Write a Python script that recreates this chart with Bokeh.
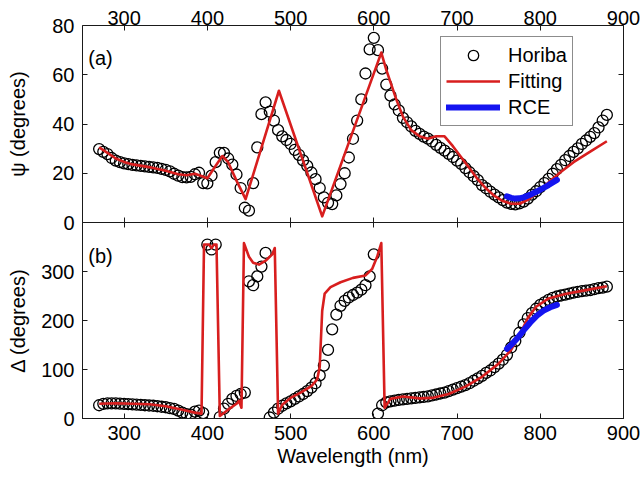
import math

from bokeh.plotting import figure
from bokeh.layouts import column
from bokeh.models import (Range1d, LinearAxis, FixedTicker, Label,
                          Legend, LegendItem)
from bokeh.embed import file_html
from bokeh.resources import INLINE

# ---------------------------------------------------------------- data
wavelength = [
    270, 275, 280, 285, 290, 295, 300, 305, 310, 315, 320, 325, 330, 335, 340,
    345, 350, 355, 360, 365, 370, 375, 380, 385, 390, 395, 400, 405, 410, 415,
    420, 425, 430, 435, 440, 445, 450, 455, 460, 465, 470, 475, 480, 485, 490,
    495, 500, 505, 510, 515, 520, 525, 530, 535, 540, 545, 550, 555, 560, 565,
    570, 575, 580, 585, 590, 595, 600, 605, 610, 615, 620, 625, 630, 635, 640,
    645, 650, 655, 660, 665, 670, 675, 680, 685, 690, 695, 700, 705, 710, 715,
    720, 725, 730, 735, 740, 745, 750, 755, 760, 765, 770, 775, 780, 785, 790,
    795, 800, 805, 810, 815, 820, 825, 830, 835, 840, 845, 850, 855, 860, 865,
    870, 875, 880,
]

psi_horiba = [
    29.8, 28.7, 27.8, 26.2, 25.1, 24.5, 24.0, 23.7, 23.4, 23.2, 23.0, 22.8, 22.6, 22.4, 22.2,
    21.8, 21.4, 20.8, 19.8, 19.0, 18.4, 18.3, 18.5, 19.6, 20.2, 16.0, 15.9, 19.0, 24.5, 28.3,
    28.3, 26.0, 23.5, 19.5, 14.0, 6.0, 4.8, 16.0, 30.5, 44.0, 48.8, 45.0, 41.4, 37.5, 35.0,
    33.5, 31.9, 29.5, 27.5, 25.2, 23.0, 20.3, 17.6, 14.0, 10.2, 8.0, 7.5, 11.0, 15.6, 20.0,
    26.4, 34.0, 41.4, 50.0, 60.5, 70.3, 75.0, 70.0, 62.5, 56.0, 51.5, 48.0, 45.5, 42.5, 40.7,
    39.0, 37.2, 36.0, 34.9, 34.1, 32.9, 31.5, 30.3, 29.2, 27.9, 26.6, 25.1, 23.8, 22.1, 20.4,
    18.8, 17.2, 15.2, 13.9, 12.5, 11.3, 10.2, 9.1, 8.1, 7.6, 7.4, 7.8, 8.5, 9.7, 11.3,
    12.7, 14.4, 16.0, 17.7, 19.8, 21.7, 23.4, 25.3, 27.0, 28.7, 30.1, 31.9, 33.3, 34.8, 36.3,
    38.6, 41.4, 43.7,
]

delta_horiba = [
    27, 30, 31, 31, 31, 30.5, 30, 29.5, 29, 28.5, 28, 27, 26.5, 26, 25,
    24, 23, 21, 19.5, 16, 12, 9, 8, 14, 16, 11, 355, 345, 355, 3,
    20, 30, 40, 46, 50, 53, 280, 272, 290, 310, 338, 2, 12, 20, 26,
    31, 35, 40, 45, 50, 56, 63, 72, 88, 108, 140, 182, 212, 230, 240,
    247, 252, 257, 263, 272, 290, 335, 10, 27, 33, 35, 36.5, 38, 39, 40,
    41, 42, 43, 44, 45, 47, 49, 51, 53, 56, 59, 62, 65, 68, 72,
    77, 82, 87, 93, 98, 105, 112, 120, 130, 145, 158, 175, 192, 205, 215,
    224, 232, 237, 242, 246, 249, 251, 253, 255, 257, 258.5, 260, 261, 262, 264,
    266, 267, 269,
]

fit_psi_wl = [270, 280, 290, 300, 310, 330, 350, 365, 375, 385, 392, 400, 408,
              418, 425, 435, 446, 486, 538, 609, 615, 620, 627, 635, 645, 655,
              665, 675, 685, 695, 705, 715, 725, 735, 745, 755, 765, 775, 785,
              795, 805, 815, 825, 840, 860, 880]
fit_psi = [30.5, 28.3, 26.0, 24.6, 23.6, 22.5, 21.0, 19.6, 19.2, 19.8, 19.0,
           18.0, 22.0, 27.0, 24.5, 17.0, 9.5, 53.5, 2.5, 69.0, 62.0, 57.0, 50.0,
           43.0, 37.5, 35.0, 34.0, 35.0, 35.0, 31.0, 26.5, 22.0, 17.5, 13.8,
           10.8, 8.7, 7.6, 7.6, 9.2, 11.8, 14.8, 17.8, 20.6, 24.5, 28.8, 33.0]

fit_delta_wl = [270, 290, 310, 330, 350, 370, 385, 393, 396, 402, 405, 408, 411,
                415, 425, 435, 438, 441, 444, 450, 455, 462, 470, 478, 481, 485,
                490, 500, 512, 525, 532, 535, 538, 541, 548, 560, 575, 590, 598,
                604, 609, 613, 620, 635, 655, 670, 690, 710, 730, 750, 765, 775,
                785, 795, 810, 830, 855, 880]
fit_delta = [30, 31, 30, 29, 25, 18, 12, 10, 355, 355, 348, 355, 355,
             5, 18, 30, 36, 22, 358, 330, 318, 314, 322, 335, 348, 10,
             28, 42, 53, 66, 80, 105, 220, 255, 268, 278, 287, 292, 305,
             330, 358, 22, 40, 45, 41, 42, 50, 65, 85, 112, 140, 170,
             205, 228, 245, 254, 262, 270]

rce_psi_wl = [760, 765, 770, 775, 780, 790, 800, 810, 820]
rce_psi = [10.6, 10.0, 9.7, 9.8, 10.2, 11.6, 13.3, 15.2, 17.3]

rce_delta_wl = [760, 766, 772, 780, 788, 796, 804, 812, 820]
rce_delta = [142, 152, 163, 180, 196, 210, 220, 227, 232]

x_ticks = [300, 400, 500, 600, 700, 800, 900]
psi_ticks = [0, 20, 40, 60, 80]
delta_ticks = [0, 100, 200, 300]

# ---------------------------------------------------------------- styles
FONT = "Liberation Sans"
FS = "20px"
INK = "#1a1a1a"
RED = "#d81e1e"
BLUE = "#1414f0"
MARKER_SIZE = 11
MARKER_LW = 1.3
SEAM = 24          # spare border on each side of the shared panel edge

x_range = Range1d(250, 900)


def add_axis(fig, place, ticks, labelled=True, title=None, line=True):
    ax = LinearAxis(ticker=FixedTicker(ticks=ticks))
    if not labelled:
        ax.major_label_overrides = {t: "" for t in ticks}
    ax.major_tick_in = 5
    ax.major_tick_out = 0
    ax.minor_tick_line_color = None
    ax.major_tick_line_color = INK
    ax.axis_line_color = INK if line else None
    ax.major_label_text_font = FONT
    ax.major_label_text_font_size = FS
    ax.major_label_text_color = "black"
    ax.major_label_standoff = 8 if labelled else 0
    if title:
        ax.axis_label = title
        ax.axis_label_text_font = FONT
        ax.axis_label_text_font_size = FS
        ax.axis_label_text_font_style = "normal"
        ax.axis_label_text_color = "black"
    fig.add_layout(ax, place)
    return ax


def make_fig(height, y_max, top, bottom, **kw):
    fig = figure(width=641, height=height, x_range=x_range,
                 y_range=Range1d(0, y_max),
                 x_axis_location=None, y_axis_location=None,
                 output_backend="svg", toolbar_location=None,
                 min_border_left=82, min_border_right=18,
                 min_border_top=top, min_border_bottom=bottom,
                 background_fill_color="white", **kw)
    fig.grid.visible = False
    return fig


# ---------------------------------------------------------------- (a) psi
p1 = make_fig(25 + 197 + SEAM, 80, 25, SEAM,
              border_fill_color="white", outline_line_color=None)
ax = add_axis(p1, "left", psi_ticks, title="ψ (degrees)")
ax.axis_label_standoff = 20
add_axis(p1, "right", psi_ticks, labelled=False)
ax = add_axis(p1, "above", x_ticks)
ax.major_label_standoff = 1
add_axis(p1, "below", x_ticks, labelled=False, line=False)

psi_pts = p1.scatter(wavelength, psi_horiba, marker="circle",
                     size=MARKER_SIZE, fill_color=None, line_color="black",
                     line_width=MARKER_LW)
psi_fit = p1.line(fit_psi_wl, fit_psi, line_color=RED, line_width=2.6,
                  line_join="round")
psi_rce = p1.line(rce_psi_wl, rce_psi, line_color=BLUE, line_width=6,
                  line_cap="round", line_join="round")

p1.add_layout(Label(x=257, y=67, text="(a)", text_font=FONT,
                    text_font_size=FS, text_color="black",
                    text_baseline="middle"))

legend = Legend(items=[LegendItem(label="Horiba", renderers=[psi_pts]),
                       LegendItem(label="Fitting", renderers=[psi_fit]),
                       LegendItem(label="RCE", renderers=[psi_rce])],
                location=(358, 96), orientation="vertical",
                label_text_font=FONT, label_text_font_size=FS,
                label_text_color="black",
                glyph_width=54, glyph_height=26, label_height=26,
                label_standoff=8, spacing=0, padding=5, margin=0,
                border_line_color=INK, border_line_width=1,
                background_fill_color="white", background_fill_alpha=1)
p1.add_layout(legend)

# ---------------------------------------------------------------- (b) Delta
# transparent border so the lower panel can sit flush against the upper one
p2 = make_fig(SEAM + 196 + 59, 400, SEAM, 59,
              border_fill_alpha=0, outline_line_color=INK,
              margin=(-2 * SEAM, 0, 0, 0))
ax = add_axis(p2, "left", delta_ticks, title="Δ (degrees)")
ax.axis_label_standoff = 9
add_axis(p2, "right", delta_ticks, labelled=False)
add_axis(p2, "above", x_ticks, labelled=False)
ax = add_axis(p2, "below", x_ticks, title="Wavelength (nm)")
ax.major_label_standoff = 7
ax.axis_label_standoff = 2

p2.scatter(wavelength, delta_horiba, marker="circle", size=MARKER_SIZE,
           fill_color=None, line_color="black", line_width=MARKER_LW)
p2.line(fit_delta_wl, fit_delta, line_color=RED, line_width=2.6,
        line_join="round")
p2.line(rce_delta_wl, rce_delta, line_color=BLUE, line_width=6,
        line_cap="round", line_join="round")

p2.add_layout(Label(x=257, y=332, text="(b)", text_font=FONT,
                    text_font_size=FS, text_color="black",
                    text_baseline="middle"))

layout = column(p1, p2, spacing=0)
open("out.html", "w").write(file_html(layout, INLINE))
